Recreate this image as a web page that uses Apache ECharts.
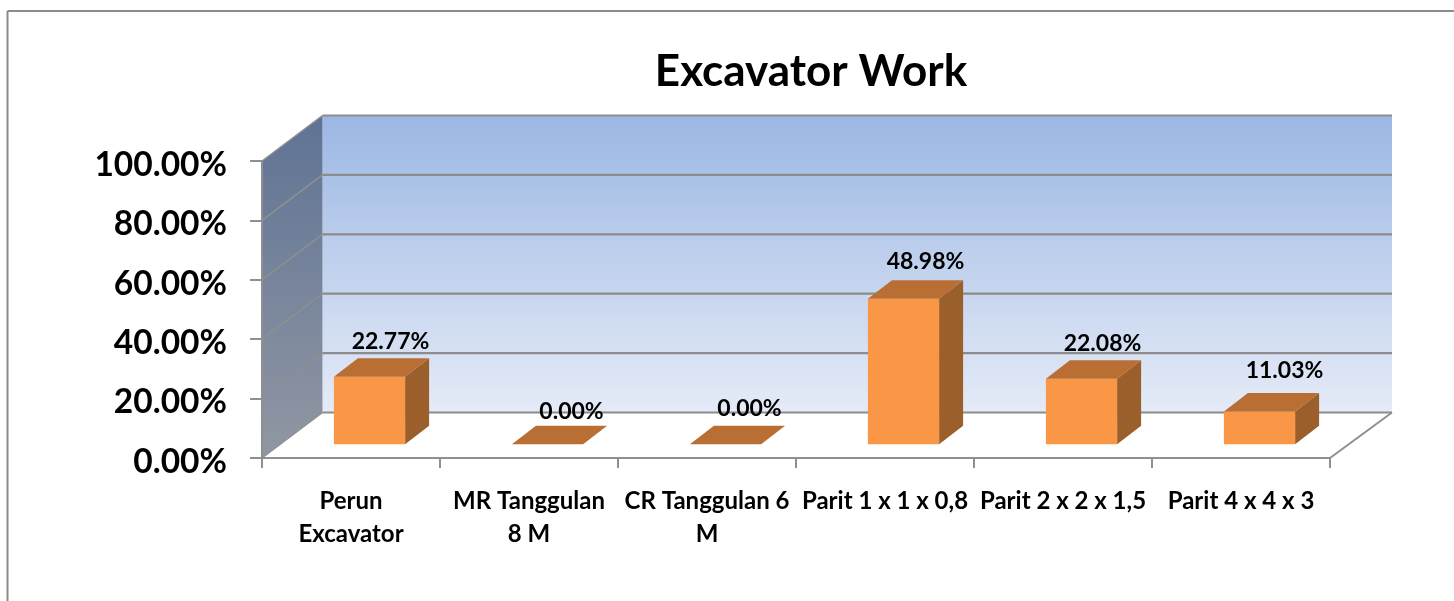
<!DOCTYPE html>
<html>
<head>
<meta charset="utf-8">
<title>Excavator Work</title>
<script src="https://cdn.jsdelivr.net/npm/echarts@6/dist/echarts.min.js"></script>
<style>
html, body { margin: 0; padding: 0; background: #fff; }
#chart { width: 1454px; height: 601px; }
</style>
</head>
<body>
<div id="chart"></div>
<script>
var categories = ['Perun\nExcavator', 'MR Tanggulan\n8 M', 'CR Tanggulan 6\nM', 'Parit 1 x 1 x 0,8', 'Parit 2 x 2 x 1,5', 'Parit 4 x 4 x 3'];
var workValues = [0.2277, 0, 0, 0.4898, 0.2208, 0.1103];
var yTicks = [0, 0.2, 0.4, 0.6, 0.8, 1];

var fontName = 'Lato, "Open Sans", sans-serif';
var wallDepth = [60.5, -45.5];
var wallRightExtra = 1.5;     // back wall is a touch wider than the front edge
var barInset = [18.5, -13.7];   // bars stand a little behind the front edge of the floor
var barDepth = [24, -18.5];
var labelShift = [[-3, -17], [0, -14], [0, -17], [-2, -19], [-3, -17], [1, -22]];  // excel moved the labels by hand

function pct(v) {
    return (v * 100).toFixed(2) + '%';
}

function face(points, fill) {
    return { type: 'polygon', shape: { points: points }, style: { fill: fill } };
}

function edge(a, b, color, width) {
    return {
        type: 'line',
        shape: { x1: a[0], y1: a[1], x2: b[0], y2: b[1] },
        style: { stroke: color, lineWidth: width }
    };
}

// back wall, side wall, floor edges and the gridlines on them
function renderWalls(params, api) {
    var rect = params.coordSys;
    var dx = wallDepth[0], dy = wallDepth[1];
    var left = rect.x, right = rect.x + rect.width;
    var backRight = right + dx + wallRightExtra;
    var bottom = api.coord([0, 0])[1], top = api.coord([0, 1])[1];
    var children = [];

    children.push(face([[left + dx, top + dy], [backRight, top + dy], [backRight, bottom + dy], [left + dx, bottom + dy]],
        new echarts.graphic.LinearGradient(0, 0, 0, 1, [
            { offset: 0, color: '#9bb7e3' },
            { offset: 1, color: '#e5ebf7' }
        ])));
    children.push(face([[left, top], [left + dx, top + dy], [left + dx, bottom + dy], [left, bottom]],
        new echarts.graphic.LinearGradient(0, 0, 0, 1, [
            { offset: 0, color: '#5f7395' },
            { offset: 1, color: '#9197a3' }
        ])));

    yTicks.forEach(function (t) {
        var y = api.coord([0, t])[1];
        children.push(edge([left, y], [left + dx, y + dy], '#8f8f8f', 1.5));
        children.push(edge([left + dx, y + dy], [backRight, y + dy], '#8c8c8c', 2.2));
    });
    children.push(edge([left, top], [left, bottom], '#8f8f8f', 2));
    children.push(edge([right, bottom], [backRight, bottom + dy], '#8f8f8f', 2));

    return { type: 'group', children: children };
}

function renderBar(params, api) {
    var i = api.value(0);
    var base = api.coord([i, 0]);
    var head = api.coord([i, api.value(1)]);
    var halfW = api.size([1, 0])[0] * 0.2;
    var x0 = base[0] + barInset[0] - halfW, x1 = base[0] + barInset[0] + halfW;
    var yb = base[1] + barInset[1], yt = head[1] + barInset[1];
    var dx = barDepth[0], dy = barDepth[1];
    var shift = labelShift[params.dataIndex];
    var children = [];

    if (yb - yt > 0) {
        children.push(face([[x1, yt], [x1 + dx, yt + dy], [x1 + dx, yb + dy], [x1, yb]], '#9b5f2b'));
        children.push(face([[x0, yt], [x1, yt], [x1, yb], [x0, yb]], '#f99746'));
    }
    children.push(face([[x0, yt], [x0 + dx, yt + dy], [x1 + dx, yt + dy], [x1, yt]], '#b96f33'));
    children.push({
        type: 'text',
        style: {
            text: pct(api.value(1)),
            x: (x0 + x1) / 2 + dx + shift[0],
            y: yt + dy + shift[1],
            align: 'center',
            verticalAlign: 'middle',
            fill: '#000',
            font: 'bold 23px ' + fontName
        }
    });
    return { type: 'group', children: children };
}

var chart = echarts.init(document.getElementById('chart'));
chart.setOption({
    animation: false,
    backgroundColor: '#fff',
    title: {
        text: 'Excavator Work',
        left: 806,
        top: 45,
        textAlign: 'center',
        textStyle: { fontFamily: fontName, fontWeight: 'bold', fontSize: 44, color: '#000' }
    },
    grid: { left: 262, right: 124, top: 161, height: 297 },
    xAxis: {
        type: 'category',
        data: categories,
        z: 5,
        axisLine: { lineStyle: { color: '#8f8f8f', width: 2 } },
        axisTick: { show: true, length: 10, alignWithLabel: false, lineStyle: { color: '#8f8f8f', width: 2 } },
        axisLabel: {
            interval: 0,
            margin: 27,
            color: '#000',
            fontFamily: fontName,
            fontWeight: 'bold',
            fontSize: 24,
            lineHeight: 33
        }
    },
    yAxis: {
        type: 'value',
        min: 0,
        max: 1,
        interval: 0.2,
        z: 5,
        splitLine: { show: false },
        axisLine: { show: false },
        axisTick: { show: true, length: 12, lineStyle: { color: '#8f8f8f', width: 2 } },
        axisLabel: {
            margin: 35,
            verticalAlign: 'top',
            lineHeight: 8,   // sits a little below its tick, as in the original
            color: '#000',
            fontFamily: fontName,
            fontWeight: 'bold',
            fontSize: 33.5,
            formatter: pct
        }
    },
    series: [
        {
            type: 'custom',
            name: 'walls',
            z: 1,
            silent: true,
            clip: false,
            data: [[0, 0]],
            renderItem: renderWalls
        },
        {
            type: 'custom',
            name: 'Excavator Work',
            z: 2,
            clip: false,
            encode: { x: 0, y: 1 },
            data: workValues.map(function (v, i) { return [i, v]; }),
            renderItem: renderBar
        }
    ],
    graphic: [
        { type: 'line', silent: true, shape: { x1: 7.5, y1: 11, x2: 1454, y2: 11 }, style: { stroke: '#8c8c8c', lineWidth: 2 } },
        { type: 'line', silent: true, shape: { x1: 7.5, y1: 11, x2: 7.5, y2: 601 }, style: { stroke: '#8c8c8c', lineWidth: 2 } }
    ]
});
</script>
</body>
</html>
